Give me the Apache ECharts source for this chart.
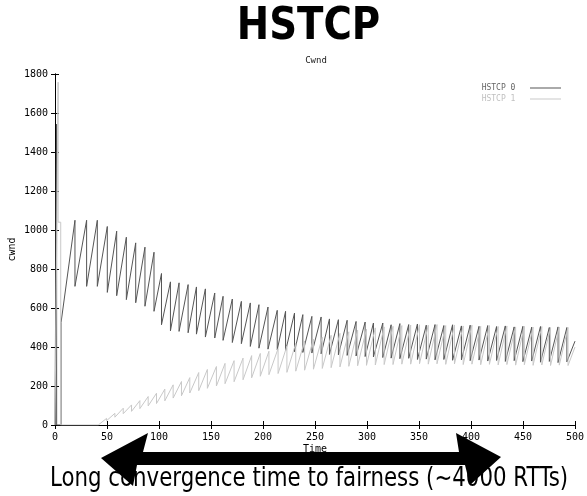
<!DOCTYPE html>
<html>
<head>
<meta charset="utf-8">
<script src="https://cdn.jsdelivr.net/npm/echarts@6/dist/echarts.min.js"></script>
<style>
html,body{margin:0;padding:0;background:#fff;}
#chart{width:587px;height:496px;}
</style>
</head>
<body>
<div id="chart"></div>
<script>
// ---- data ----
const seriesNames = ['HSTCP 0', 'HSTCP 1'];

// HSTCP 0 : initial spike, then sawtooth (peak time, peak value, value after drop)
const hstcp0Start = [[0, 0], [1.5, 1543], [1.6, 0], [5.8, 0], [5.8, 525]];
const hstcp0PeakTime = [19.2, 30.4, 40.7, 50.3, 59.3, 68.6, 77.6, 86.5, 95.2, 102.4, 111.0, 119.3, 128.0, 136.0, 144.6, 153.6, 161.6, 170.5, 179.2, 187.8, 196.1, 204.8, 213.7, 221.7, 230.3, 238.3, 247.0, 255.9, 263.9, 272.5, 280.9, 289.5, 298.2, 306.2, 315.2, 323.2, 331.6, 340.1, 348.5, 357.0, 365.4, 373.9, 382.3, 390.8, 399.2, 407.7, 416.1, 424.6, 433.0, 441.5, 449.9, 458.4, 466.8, 475.3, 483.7, 492.2];
const hstcp0Peak = [1050, 1050, 1050, 1018, 994, 963, 934, 912, 886, 777, 734, 729, 720, 708, 698, 677, 660, 646, 634, 626, 617, 605, 588, 583, 574, 566, 557, 554, 544, 540, 537, 531, 528, 523, 523, 514, 520, 515, 518, 512, 515, 510, 514, 508, 512, 506, 510, 505, 508, 503, 506, 502, 505, 500, 503, 500];
const hstcp0Trough = [711, 711, 711, 680, 663, 643, 627, 609, 583, 514, 483, 480, 473, 466, 451, 446, 434, 423, 417, 403, 394, 389, 386, 380, 376, 372, 369, 365, 362, 360, 357, 354, 351, 349, 346, 343, 340, 342, 336, 338, 334, 336, 332, 334, 330, 333, 328, 331, 326, 330, 325, 328, 322, 326, 320, 324];
const hstcp0End = [500, 430];

// HSTCP 1
const hstcp1Start = [[0, 0], [3.0, 1758], [3.0, 1040], [5.5, 1040], [5.5, 0], [41.6, 0]];
const hstcp1PeakTime = [49.6, 57.6, 65.6, 73.6, 81.6, 89.6, 97.6, 105.6, 113.6, 121.6, 129.6, 138.2, 146.5, 155.2, 163.5, 172.2, 180.8, 189.1, 197.4, 205.7, 214.5, 223.0, 231.5, 240.0, 248.5, 257.0, 265.5, 274.0, 282.5, 291.0, 299.5, 308.0, 316.5, 325.0, 333.5, 342.0, 350.5, 358.9, 367.3, 375.7, 384.1, 392.5, 400.9, 409.3, 417.7, 426.1, 434.5, 442.9, 451.3, 459.7, 468.1, 476.5, 484.9, 493.3];
const hstcp1Peak = [34, 60, 86, 103, 125, 146, 163, 184, 206, 223, 243, 269, 285, 300, 316, 330, 343, 356, 367, 378, 392, 405, 418, 430, 440, 450, 460, 470, 478, 486, 492, 498, 503, 506, 510, 512, 514, 512, 515, 510, 513, 508, 512, 506, 510, 505, 508, 503, 506, 502, 505, 500, 502, 500];
const hstcp1Trough = [22, 40, 58, 70, 84, 98, 110, 124, 138, 150, 164, 176, 188, 200, 212, 222, 232, 242, 250, 258, 264, 270, 276, 281, 286, 290, 294, 298, 301, 304, 306, 308, 310, 310, 312, 312, 314, 312, 314, 311, 313, 310, 312, 309, 311, 308, 310, 307, 309, 306, 308, 305, 307, 305];
const hstcp1End = [500, 400];

const xTickValues = [0, 50, 100, 150, 200, 250, 300, 350, 400, 450, 500];
const yTickValues = [0, 200, 400, 600, 800, 1000, 1200, 1400, 1600, 1800];

// ---- build line data from the arrays ----
function buildSaw(start, times, peaks, troughs, end) {
  const out = start.slice();
  for (let i = 0; i < times.length; i++) {
    out.push([times[i], peaks[i]]);
    out.push([times[i], troughs[i]]);
  }
  out.push(end);
  return out;
}
const data0 = buildSaw(hstcp0Start, hstcp0PeakTime, hstcp0Peak, hstcp0Trough, hstcp0End);
const data1 = buildSaw(hstcp1Start, hstcp1PeakTime, hstcp1Peak, hstcp1Trough, hstcp1End);

const MONO = '"DejaVu Sans Mono", "Liberation Mono", monospace';
const col0 = '#555555';
const col1 = '#c8c8c8';

const chart = echarts.init(document.getElementById('chart'), null, {renderer: 'canvas'});

const plain = function (v) { return String(v); };

const baseX = {
  type: 'value', min: xTickValues[0], max: xTickValues[xTickValues.length - 1],
  interval: xTickValues[1] - xTickValues[0],
  axisLine: {show: true, lineStyle: {color: '#000', width: 1}},
  axisTick: {show: true, inside: true, length: 4, lineStyle: {color: '#000'}},
  splitLine: {show: false}
};
const baseY = {
  type: 'value', min: yTickValues[0], max: yTickValues[yTickValues.length - 1],
  interval: yTickValues[1] - yTickValues[0],
  axisLine: {show: true, lineStyle: {color: '#000', width: 1}},
  axisTick: {show: true, inside: true, length: 4, lineStyle: {color: '#000'}},
  splitLine: {show: false}
};

chart.setOption({
  animation: false,
  backgroundColor: '#fff',
  grid: {left: 55, right: 12, top: 74, bottom: 71, containLabel: false, outerBoundsMode: 'none'},
  xAxis: [
    Object.assign({}, baseX, {
      position: 'bottom',
      axisLabel: {color: '#000', fontFamily: MONO, fontSize: 10, margin: 7, formatter: plain},
      name: 'Time', nameLocation: 'middle', nameGap: 19, nameMoveOverlap: false,
      nameTextStyle: {color: '#000', fontFamily: MONO, fontSize: 10}
    }),
    Object.assign({}, baseX, {position: 'top', axisLabel: {show: false}})
  ],
  yAxis: [
    Object.assign({}, baseY, {
      position: 'left',
      axisLabel: {color: '#000', fontFamily: MONO, fontSize: 10, margin: 7, formatter: plain},
      name: 'cwnd', nameLocation: 'middle', nameGap: 38, nameRotate: 90, nameMoveOverlap: false,
      nameTextStyle: {color: '#000', fontFamily: MONO, fontSize: 10}
    }),
    Object.assign({}, baseY, {position: 'right', axisLabel: {show: false}})
  ],
  legend: {
    orient: 'vertical', right: 21, top: 79, align: 'right',
    icon: 'rect', itemWidth: 31, itemHeight: 1, itemGap: 3,
    formatter: function (n) { return n + '  '; },
    textStyle: {fontFamily: MONO, fontSize: 8},
    data: [
      {name: seriesNames[0], textStyle: {color: '#666'}},
      {name: seriesNames[1], textStyle: {color: '#c0c0c0'}}
    ]
  },
  series: [
    {
      name: seriesNames[0], type: 'line', data: data0, symbol: 'none',
      xAxisIndex: 0, yAxisIndex: 0,
      itemStyle: {color: col0}, lineStyle: {color: col0, width: 1}
    },
    {
      name: seriesNames[1], type: 'line', data: data1, symbol: 'none',
      xAxisIndex: 0, yAxisIndex: 0,
      itemStyle: {color: col1}, lineStyle: {color: col1, width: 1}
    }
  ],
  graphic: [
    {
      type: 'text', x: 308.5, y: 27, scaleX: 0.86, z: 10,
      style: {text: 'HSTCP', fill: '#000', font: 'bold 45px "DejaVu Sans", Verdana, sans-serif',
              textAlign: 'center', textVerticalAlign: 'middle'}
    },
    {
      type: 'text', x: 316, y: 60.5, z: 10,
      style: {text: 'Cwnd', fill: '#222', font: '9px ' + MONO,
              textAlign: 'center', textVerticalAlign: 'middle'}
    },
    {
      type: 'polygon', z: 10,
      shape: {points: [[101, 458], [148, 433], [143, 452], [459, 452], [456, 433], [501, 457], [470, 485], [465, 465], [137, 465], [133, 486]]},
      style: {fill: '#000'}
    },
    {
      type: 'text', x: 309, y: 479, scaleX: 0.82, z: 11,
      style: {text: 'Long convergence time to fairness (~4000 RTTs)', fill: '#000',
              font: '26px "DejaVu Sans", Verdana, sans-serif',
              textAlign: 'center', textVerticalAlign: 'middle'}
    }
  ]
});
</script>
</body>
</html>
